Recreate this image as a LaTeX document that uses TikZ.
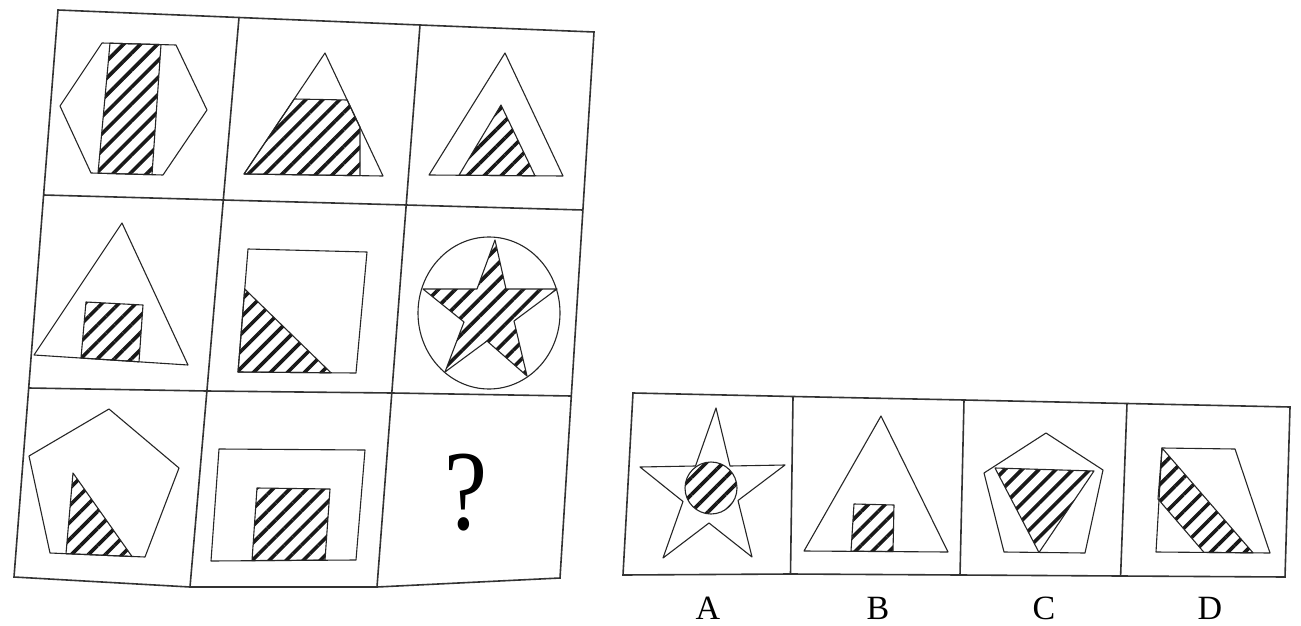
\documentclass[tikz,border=0pt]{standalone}
\usepackage{fontspec}
\setmainfont{Liberation Serif}
\usetikzlibrary{patterns.meta}
\tikzset{
  gridline/.style={line width=1.6pt,draw=black!80},
  figline/.style={line width=1.1pt,draw=black!85,line join=round},
  hatched/.style={figline,pattern={Lines[angle=45,distance=12pt,line width=3.6pt]},pattern color=black!90},
  optlabel/.style={font=\fontsize{34}{34}\selectfont,inner sep=0pt}
}
\begin{document}
\begin{tikzpicture}[x=1pt,y=-1pt]
 \useasboundingbox[fill=white] (0,0) rectangle (1301,626);
 % grid of the puzzle, corners row by row
 \coordinate (g00) at (58,10);   \coordinate (g01) at (239,17.5);
 \coordinate (g02) at (420,25);  \coordinate (g03) at (594,32);
 \coordinate (g10) at (43.6,195);\coordinate (g11) at (223.3,200);
 \coordinate (g12) at (406.2,205);\coordinate (g13) at (582.9,210);
 \coordinate (g20) at (28.7,388);\coordinate (g21) at (206.9,391);
 \coordinate (g22) at (391.8,393);\coordinate (g23) at (571.3,396);
 \coordinate (g30) at (14,577);  \coordinate (g31) at (190,587);
 \coordinate (g32) at (377,587); \coordinate (g33) at (560,578);
 \draw[gridline] (g00)--(g01)--(g02)--(g03)--(g13)--(g23)--(g33)--(g32)--(g31)--(g30)--(g20)--(g10)--cycle;
 \draw[gridline] (g10)--(g11)--(g12)--(g13) (g20)--(g21)--(g22)--(g23);
 \draw[gridline] (g01)--(g11)--(g21)--(g31) (g02)--(g12)--(g22)--(g32);
 % row 1
 \draw[figline] (102,43)--(176,45)--(207,110)--(163,175)--(91,173)--(60,106)--cycle;
 \draw[hatched] (110,43.2)--(161,44.6)--(152,174.7)--(98,173.2)--cycle;
 \draw[figline] (325,53)--(383,176)--(244,174)--cycle;
 \draw[hatched] (244,174)--(294.2,99)--(347.2,100)--(360,127.2)--(360,175.7)--cycle;
 \draw[figline] (505,53)--(563,176)--(429,175)--cycle;
 \draw[hatched] (501,105)--(535,175.8)--(459,175.2)--cycle;
 % row 2
 \draw[figline] (122,223)--(188,365)--(34,355)--cycle;
 \draw[hatched] (86,302)--(143,305)--(139,361.8)--(81,358)--cycle;
 \draw[figline] (248,249)--(367,252)--(356,373)--(238,372)--cycle;
 \draw[hatched] (244.7,289)--(331,372.8)--(238,372)--cycle;
 \draw[figline] (489,313) ellipse [x radius=71,y radius=76];
 \draw[hatched] (495,240)--(506,289)--(557,289)--(514,321)--(527,376)--(487,341)
   --(445,372)--(464,322)--(423,289)--(477,289)--cycle;
 % row 3
 \draw[figline] (109,409)--(179,468)--(145,557)--(50,553)--(29,456)--cycle;
 \draw[hatched] (73,473)--(132,556.5)--(66,553.7)--cycle;
 \draw[figline] (219,449)--(365,450)--(356,560)--(211,561)--cycle;
 \draw[hatched] (257,488)--(330,489)--(325,560.1)--(252,560.6)--cycle;
 \node[xscale=0.85,font=\fontsize{114}{114}\selectfont,inner sep=0pt] (qmark) at (466,493) {?};
 % answer strip
 \coordinate (a0) at (633,393);  \coordinate (a1) at (793,396.5);
 \coordinate (a2) at (964,400);  \coordinate (a3) at (1127,403.5);
 \coordinate (a4) at (1290,407);
 \coordinate (b0) at (623,575);  \coordinate (b1) at (790.5,574);
 \coordinate (b2) at (960,575);  \coordinate (b3) at (1120.6,576);
 \coordinate (b4) at (1285,577);
 \draw[gridline] (a0)--(a1)--(a2)--(a3)--(a4)--(b4)--(b3)--(b2)--(b1)--(b0)--cycle;
 \draw[gridline] (a1)--(b1) (a2)--(b2) (a3)--(b3);
 % A
 \draw[figline] (716,408)--(730,466)--(785,465)--(738,500.5)--(752,557)--(709,523)
   --(663,558)--(683,501.5)--(640,467)--(695.5,466)--cycle;
 \draw[hatched] (711,488) circle [radius=26];
 % B
 \draw[figline] (881,416)--(948,552)--(804,551)--cycle;
 \draw[hatched] (854,504)--(894,505)--(893,551.5)--(851,551.2)--cycle;
 % C
 \draw[figline] (1046,433)--(1103,470)--(1085,553)--(1004,552)--(984,473)--cycle;
 \draw[hatched] (995,468)--(1094,471)--(1039,552.5)--cycle;
 % D
 \draw[figline] (1162,448)--(1235,449)--(1270,553)--(1156,552)--cycle;
 \draw[hatched] (1162,448)--(1253,552.8)--(1204,552.4)--(1158,499)--cycle;
 \node[optlabel] (la) at (708,608) {A};
 \node[optlabel] (lb) at (878,608) {B};
 \node[optlabel] (lc) at (1044,608) {C};
 \node[optlabel] (ld) at (1210,608) {D};
\end{tikzpicture}
\end{document}
